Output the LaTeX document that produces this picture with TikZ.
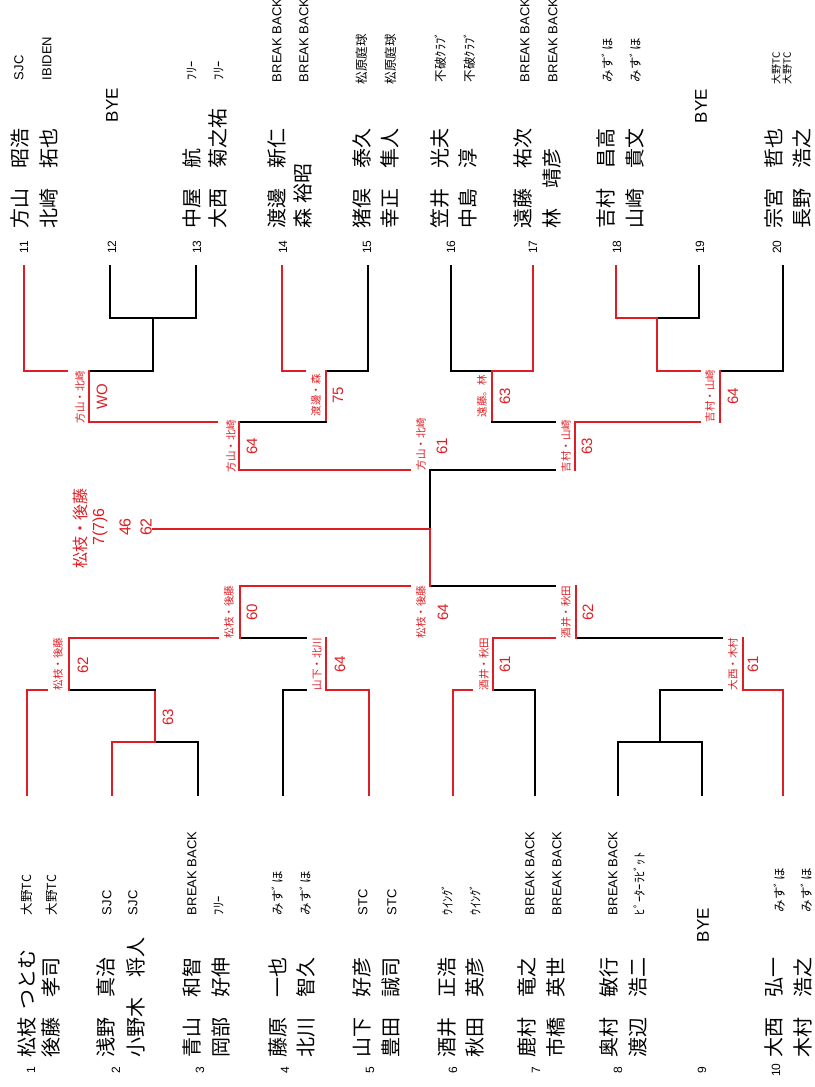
\documentclass[tikz,border=0pt]{standalone}
\usepackage{fontspec}
\setmainfont{Liberation Sans}
\newfontfamily\jp{Noto Sans CJK JP}
\definecolor{wred}{RGB}{222,30,36}
\begin{document}
\begin{tikzpicture}[x=1pt,y=-1pt,
  rt/.style={rotate=90,inner sep=0pt,outer sep=0pt},
  pname/.style={rt,anchor=west,font=\jp\fontsize{20}{20}\selectfont},
  lclub/.style={rt,anchor=west,font=\fontsize{13}{13}\selectfont},
  jclub/.style={rt,anchor=west,font=\jp\fontsize{12.5}{12.5}\selectfont},
  sclub/.style={rt,anchor=west,font=\jp\fontsize{10}{10}\selectfont},
  pnum/.style={rt,font=\fontsize{12}{12}\selectfont},
  bye/.style={rt,font=\fontsize{17}{17}\selectfont},
  wlab/.style={rt,text=wred,font=\jp\fontsize{10.5}{10.5}\selectfont},
  score/.style={rt,text=wred,font=\fontsize{15}{15}\selectfont},
  champ/.style={rt,text=wred,font=\jp\fontsize{16}{16}\selectfont},
  cscore/.style={rt,text=wred,font=\fontsize{16}{16}\selectfont},
  win/.style={draw=wred,line width=1.8pt,line cap=rect},
  lose/.style={draw=black,line width=1.8pt,line cap=rect},
]
\useasboundingbox (0,0) rectangle (814,1087);

% ---------------- bottom players: line ends ----------------
\coordinate (p1) at (27,795);  \coordinate (p2) at (112,795);
\coordinate (p3) at (198,795); \coordinate (p4) at (283,795);
\coordinate (p5) at (369,795); \coordinate (p6) at (453,795);
\coordinate (p7) at (535,795); \coordinate (p8) at (618,795);
\coordinate (p9) at (702,795); \coordinate (p10) at (783,795);
% ---------------- top players: line ends ----------------
\coordinate (p11) at (24,266);  \coordinate (p12) at (110,266);
\coordinate (p13) at (196,266); \coordinate (p14) at (282,266);
\coordinate (p15) at (368,266); \coordinate (p16) at (451,266);
\coordinate (p17) at (533,266); \coordinate (p18) at (616,266);
\coordinate (p19) at (699,266); \coordinate (p20) at (783,266);

% ---------------- bottom bracket ----------------
\coordinate (j23) at (155,742); \coordinate (j23p) at (155,690);
\draw[win] (p2) |- (j23); \draw[lose] (p3) |- (j23); \draw[win] (j23) -- (j23p);
\coordinate (j1) at (69,690); \coordinate (j1p) at (69,638); \coordinate (g1) at (47,690);
\draw[win] (p1) |- (g1); \draw[lose] (j23p) -- (j1); \draw[win] (j1) -- (j1p);
\coordinate (j45) at (326,690); \coordinate (j45p) at (326,638); \coordinate (g45) at (306,690);
\draw[lose] (p4) |- (g45); \draw[win] (p5) |- (j45); \draw[win] (j45) -- (j45p);
\coordinate (jql) at (240,638); \coordinate (jqlp) at (240,586);
\coordinate (gql) at (218,638); \coordinate (gql2) at (306,638);
\draw[win] (j1p) -- (gql); \draw[lose] (jql) -- (gql2); \draw[win] (jql) -- (jqlp);
\coordinate (j67) at (493,690); \coordinate (j67p) at (493,638); \coordinate (g67) at (472,690);
\draw[win] (p6) |- (g67); \draw[lose] (p7) |- (j67); \draw[win] (j67) -- (j67p);
\coordinate (j89) at (660,742); \coordinate (j89p) at (660,690);
\draw[lose] (p8) |- (j89); \draw[lose] (p9) |- (j89); \draw[lose] (j89) -- (j89p);
\coordinate (j10) at (743,690); \coordinate (j10p) at (743,638); \coordinate (g10) at (722,690);
\draw[lose] (j89p) -- (g10); \draw[win] (p10) |- (j10); \draw[win] (j10) -- (j10p);
\coordinate (jqr) at (576,638); \coordinate (jqrp) at (576,586);
\coordinate (gqr) at (555,638); \coordinate (gqr2) at (722,638);
\draw[win] (j67p) -- (gqr); \draw[lose] (jqr) -- (gqr2); \draw[win] (jqr) -- (jqrp);
\coordinate (jsb) at (430,586); \coordinate (jsbp) at (430,529);
\coordinate (gsb) at (410,586); \coordinate (gsb2) at (555,586);
\draw[win] (jqlp) -- (gsb); \draw[lose] (jsb) -- (gsb2); \draw[win] (jsb) -- (jsbp);

% ---------------- top bracket ----------------
\coordinate (j1213) at (153,318); \coordinate (j1213p) at (153,371);
\draw[lose] (p12) |- (j1213); \draw[lose] (p13) |- (j1213); \draw[lose] (j1213) -- (j1213p);
\coordinate (j11) at (89,371); \coordinate (j11p) at (89,422); \coordinate (g11) at (67,371);
\draw[win] (p11) |- (g11); \draw[lose] (j1213p) -- (j11); \draw[win] (j11) -- (j11p);
\coordinate (j1415) at (326,371); \coordinate (j1415p) at (326,422); \coordinate (g1415) at (305,371);
\draw[win] (p14) |- (g1415); \draw[lose] (p15) |- (j1415); \draw[win] (j1415) -- (j1415p);
\coordinate (jqtl) at (239,422); \coordinate (jqtlp) at (239,470); \coordinate (gqtl) at (217,422);
\draw[win] (j11p) -- (gqtl); \draw[lose] (jqtl) -- (j1415p); \draw[win] (jqtl) -- (jqtlp);
\coordinate (j1617) at (492,371); \coordinate (j1617p) at (492,422);
\draw[lose] (p16) |- (j1617); \draw[win] (p17) |- (j1617); \draw[win] (j1617) -- (j1617p);
\coordinate (j1819) at (657,318); \coordinate (j1819p) at (657,371);
\draw[win] (p18) |- (j1819); \draw[lose] (p19) |- (j1819); \draw[win] (j1819) -- (j1819p);
\coordinate (j20) at (720,371); \coordinate (j20p) at (720,422); \coordinate (g20) at (700,371);
\draw[win] (j1819p) -- (g20); \draw[lose] (p20) |- (j20); \draw[win] (j20) -- (j20p);
\coordinate (jqtr) at (575,422); \coordinate (jqtrp) at (575,470);
\coordinate (gqtr) at (555,422); \coordinate (gqtr2) at (700,422);
\draw[lose] (j1617p) -- (gqtr); \draw[win] (jqtr) -- (gqtr2); \draw[win] (jqtr) -- (jqtrp);
\coordinate (jst) at (430,470); \coordinate (jstp) at (430,529);
\coordinate (gst) at (410,470); \coordinate (gst2) at (555,470);
\draw[win] (jqtlp) -- (gst); \draw[lose] (jst) -- (gst2); \draw[lose] (jst) -- (jstp);

% ---------------- final ----------------
\coordinate (ch) at (153,529);
\draw[win] (jsbp) -- (ch);
\node[champ]  (chn) at (80,528) {松枝・後藤};
\node[cscore] (chs1) at (100,527) {7(7)6};
\node[cscore] (chs2) at (125,527) {46};
\node[cscore] (chs3) at (146,527) {62};

% ---------------- winner labels and scores ----------------
\node[score] (s23) at (168,717) {63};
\node[wlab] (w1) at (58,664) {松枝・後藤};   \node[score] (s1) at (83,665) {62};
\node[wlab] (w45) at (317,664) {山下・北川}; \node[score] (s45) at (340,664) {64};
\node[wlab] (wql) at (229,612) {松枝・後藤}; \node[score] (sql) at (252,612) {60};
\node[wlab] (w67) at (484,664) {酒井・秋田}; \node[score] (s67) at (505,664) {61};
\node[wlab] (w10) at (733,664) {大西・木村}; \node[score] (s10) at (753,664) {61};
\node[wlab] (wqr) at (566,612) {酒井・秋田}; \node[score] (sqr) at (588,612) {62};
\node[wlab] (wsb) at (421,612) {松枝・後藤}; \node[score] (ssb) at (443,612) {64};

\node[wlab] (w11) at (80,397) {方山・北崎};   \node[score] (s11) at (102,397) {WO};
\node[wlab] (w1415) at (316,395) {渡邊・森}; \node[score] (s1415) at (338,395) {75};
\node[wlab] (wqtl) at (231,446) {方山・北崎}; \node[score] (sqtl) at (252,446) {64};
\node[wlab] (w1617) at (482,396) {遠藤。林}; \node[score] (s1617) at (505,396) {63};
\node[wlab] (w20) at (710,396) {吉村・山崎};  \node[score] (s20) at (733,396) {64};
\node[wlab] (wqtr) at (566,446) {吉村・山崎}; \node[score] (sqtr) at (587,446) {63};
\node[wlab] (wst) at (421,444) {方山・北崎};  \node[score] (sst) at (442,446) {61};

% ---------------- bottom players: numbers, names, clubs ----------------
\node[pnum] (num1) at (31,1070) {1};   \node[pnum] (num2) at (116,1070) {2};
\node[pnum] (num3) at (200,1070) {3};  \node[pnum] (num4) at (285,1070) {4};
\node[pnum] (num5) at (370,1070) {5};  \node[pnum] (num6) at (453,1070) {6};
\node[pnum] (num7) at (536,1070) {7};  \node[pnum] (num8) at (618,1070) {8};
\node[pnum] (num9) at (702,1070) {9};  \node[pnum] (num10) at (776,1070) {10};

\node[pname] (n1a) at (27,1057) {松枝\hspace{0.4em}つとむ};
\node[pname] (n1b) at (51,1057) {後藤　孝司};
\node[pname] (n2a) at (106,1057) {浅野　真治};
\node[pname] (n2b) at (136,1057) {小野木　将人};
\node[pname] (n3a) at (192,1057) {青山　和智};
\node[pname] (n3b) at (221,1057) {岡部　好伸};
\node[pname] (n4a) at (278,1057) {藤原　一也};
\node[pname] (n4b) at (306,1057) {北川　智久};
\node[pname] (n5a) at (362,1057) {山下　好彦};
\node[pname] (n5b) at (391,1057) {豊田　誠司};
\node[pname] (n6a) at (447,1057) {酒井　正浩};
\node[pname] (n6b) at (475,1057) {秋田　英彦};
\node[pname] (n7a) at (527,1057) {鹿村　竜之};
\node[pname] (n7b) at (556,1057) {市橋　英世};
\node[pname] (n8a) at (609,1057) {奥村　敏行};
\node[pname] (n8b) at (638,1057) {渡辺　浩二};
\node[bye]   (n9)  at (703,925) {BYE};
\node[pname] (n10a) at (774,1057) {大西　弘一};
\node[pname] (n10b) at (803,1057) {木村　浩之};

\node[jclub] (c1a) at (27,915) {大野TC};
\node[jclub] (c1b) at (52,915) {大野TC};
\node[lclub] (c2a) at (107,915) {SJC};
\node[lclub] (c2b) at (133,915) {SJC};
\node[lclub] (c3a) at (192,915) {BREAK BACK};
\node[jclub] (c3b) at (219,915) {ﾌﾘｰ};
\node[jclub] (c4a) at (278,915) {みすﾞほ};
\node[jclub] (c4b) at (306,915) {みすﾞほ};
\node[lclub] (c5a) at (363,915) {STC};
\node[lclub] (c5b) at (392,915) {STC};
\node[jclub] (c6a) at (447,915) {ｳｲﾝｸﾞ};
\node[jclub] (c6b) at (475,915) {ｳｲﾝｸﾞ};
\node[lclub] (c7a) at (530,915) {BREAK BACK};
\node[lclub] (c7b) at (557,915) {BREAK BACK};
\node[lclub] (c8a) at (613,915) {BREAK BACK};
\node[jclub] (c8b) at (640,915) {ﾋﾟｰﾀｰﾗﾋﾞｯﾄ};
\node[jclub] (c10a) at (780,912) {みすﾞほ};
\node[jclub] (c10b) at (807,912) {みすﾞほ};

% ---------------- top players: numbers, names, clubs ----------------
\node[pnum] (num11) at (24,247)  {11}; \node[pnum] (num12) at (112,247) {12};
\node[pnum] (num13) at (197,247) {13}; \node[pnum] (num14) at (283,247) {14};
\node[pnum] (num15) at (367,247) {15}; \node[pnum] (num16) at (451,247) {16};
\node[pnum] (num17) at (533,247) {17}; \node[pnum] (num18) at (617,247) {18};
\node[pnum] (num19) at (700,247) {19}; \node[pnum] (num20) at (777,247) {20};

\node[pname] (n11a) at (20,228) {方山　昭浩};
\node[pname] (n11b) at (49,228) {北崎　拓也};
\node[bye]   (n12)  at (112,105) {BYE};
\node[pname] (n13a) at (192,228) {中屋　航};
\node[pname] (n13b) at (218,228) {大西　菊之祐};
\node[pname] (n14a) at (277,228) {渡邊　新仁};
\node[pname] (n14b) at (303,228) {森\hspace{0.25em}裕昭};
\node[pname] (n15a) at (362,228) {猪俣　泰久};
\node[pname] (n15b) at (390,228) {幸正　隼人};
\node[pname] (n16a) at (440,228) {笠井　光夫};
\node[pname] (n16b) at (468,228) {中島　淳};
\node[pname] (n17a) at (523,228) {遠藤　祐次};
\node[pname] (n17b) at (552,228) {林　靖彦};
\node[pname] (n18a) at (606,228) {吉村　昌高};
\node[pname] (n18b) at (635,228) {山崎　貴文};
\node[bye]   (n19)  at (701,106) {BYE};
\node[pname] (n20a) at (774,228) {宗宮　哲也};
\node[pname] (n20b) at (802,228) {長野　浩之};

\node[lclub] (c11a) at (19,80) {SJC};
\node[lclub] (c11b) at (47,80) {IBIDEN};
\node[jclub] (c13a) at (192,80) {ﾌﾘｰ};
\node[jclub] (c13b) at (219,80) {ﾌﾘｰ};
\node[lclub] (c14a) at (277,82) {BREAK BACK};
\node[lclub] (c14b) at (304,82) {BREAK BACK};
\node[jclub] (c15a) at (362,84) {松原庭球};
\node[jclub] (c15b) at (391,84) {松原庭球};
\node[jclub] (c16a) at (441,82) {不破ｸﾗﾌﾞ};
\node[jclub] (c16b) at (470,82) {不破ｸﾗﾌﾞ};
\node[lclub] (c17a) at (525,82) {BREAK BACK};
\node[lclub] (c17b) at (553,82) {BREAK BACK};
\node[jclub] (c18a) at (608,82) {みすﾞほ};
\node[jclub] (c18b) at (636,82) {みすﾞほ};
\node[sclub] (c20a) at (776,84) {大野TC};
\node[sclub] (c20b) at (787,84) {大野TC};
\end{tikzpicture}
\end{document}
